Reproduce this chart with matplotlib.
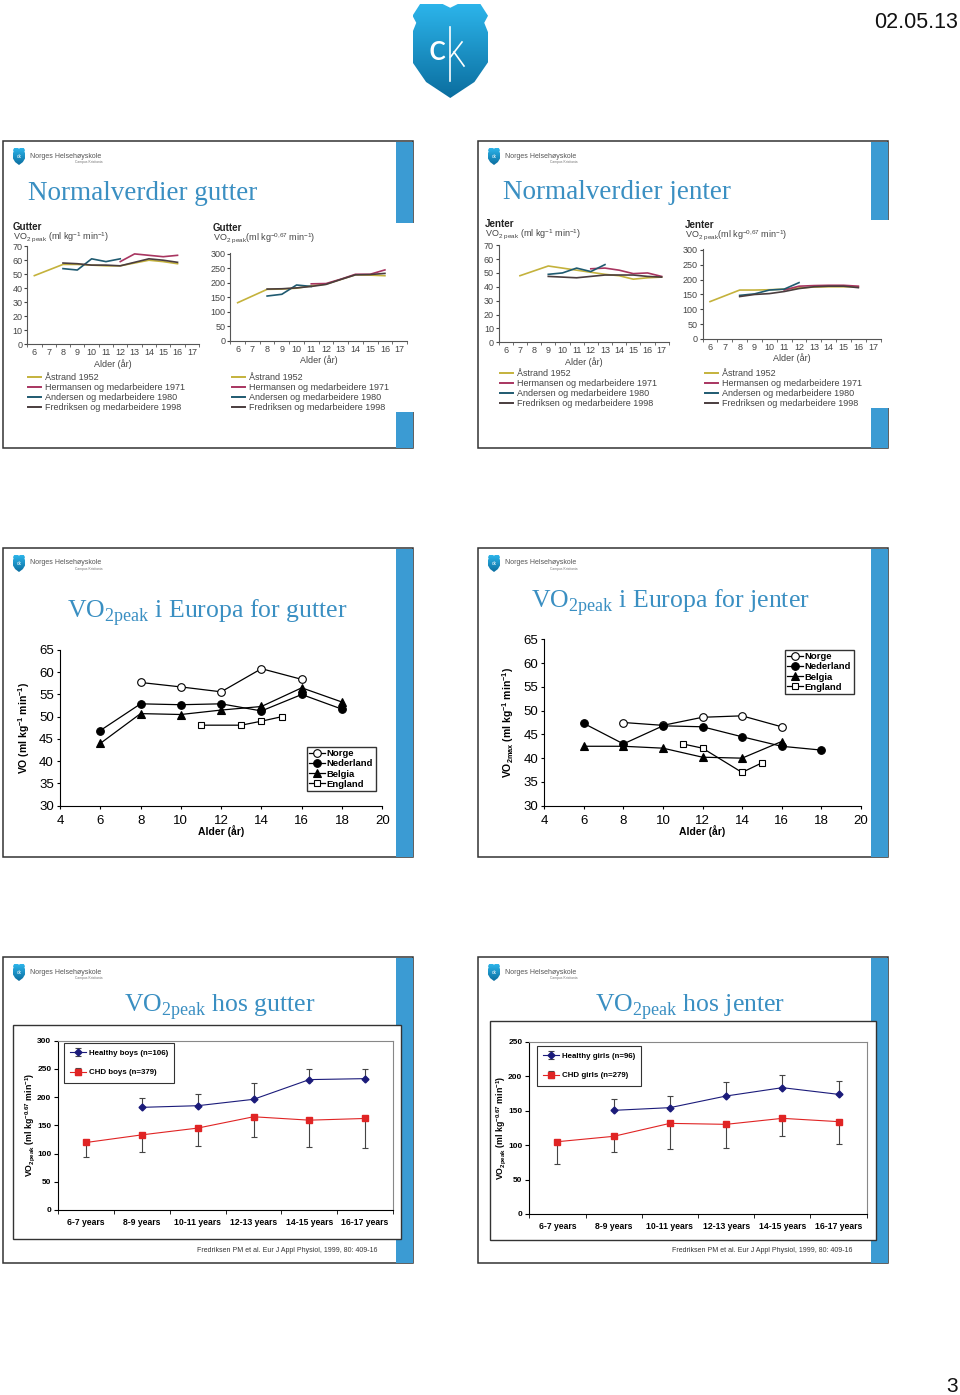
import matplotlib
matplotlib.use("Agg")
import matplotlib.pyplot as plt
import numpy as np
from matplotlib.colors import LinearSegmentedColormap
from matplotlib.patches import Polygon, Rectangle

W, H = 960, 1395
SANS = ["Liberation Sans", "DejaVu Sans"]
SERIF = ["Liberation Serif", "DejaVu Serif"]
TITLE_BLUE = "#3a8fc2"
BAR_BLUE = "#3b9bd3"
plt.rcParams["font.family"] = SANS

# ---- slides 1-2: normal values, one list of ages + one list of values per study
AGES = list(range(6, 18))
STUDIES = ["Åstrand 1952", "Hermansen og medarbeidere 1971",
           "Andersen og medarbeidere 1980", "Fredriksen og medarbeidere 1998"]
STUDY_COLORS = ["#c4b23c", "#a83560", "#1f5a70", "#4a3d3e"]

BOYS_KG_AGES = [[6, 8, 9, 10, 11, 12, 13, 14, 15, 16], [12, 13, 14, 15, 16],
                [8, 9, 10, 11, 12], [8, 9, 10, 11, 12, 13, 14, 15, 16]]
BOYS_KG = [[49, 57, 57, 56.5, 56, 56, 58, 60, 59, 57.5], [59, 64.5, 63.5, 62.5, 63.5],
           [54, 53, 61, 59, 61], [58, 57.5, 56.5, 56.5, 56, 58.5, 61, 60, 58.5]]
BOYS_AL_AGES = [[6, 8, 9, 10, 11, 12, 13, 14, 15, 16], [11, 12, 13, 14, 15, 16],
                [8, 9, 10, 11], [8, 9, 10, 11, 12, 13, 14, 15, 16]]
BOYS_AL = [[132, 178, 179, 182, 190, 196, 212, 228, 227, 225], [197, 198, 213, 230, 230, 245],
           [155, 161, 193, 188], [179, 180, 183, 188, 195, 212, 228, 229, 233]]
GIRLS_KG_AGES = [[7, 9, 10, 11, 12, 13, 14, 15, 16, 17], [12, 13, 14, 15, 16, 17],
                 [9, 10, 11, 12, 13], [9, 10, 11, 12, 13, 14, 15, 16, 17]]
GIRLS_KG = [[48, 55, 53.5, 52, 50.5, 49, 48, 45.5, 46.5, 47], [53, 53.5, 52, 49.5, 50, 47.5],
            [49, 50, 53.5, 51, 56], [47.5, 47, 46.5, 47.5, 48.5, 48.5, 48.5, 47.5, 47]]
GIRLS_AL_AGES = [[6, 8, 9, 10, 11, 12, 13, 14, 15, 16], [11, 12, 13, 14, 15, 16],
                 [8, 9, 10, 11, 12], [8, 9, 10, 11, 12, 13, 14, 15, 16]]
GIRLS_AL = [[126, 165, 165, 166, 168, 172, 175, 176, 176, 176], [165, 178, 180, 181, 181, 178],
            [147, 152, 165, 168, 190], [143, 150, 153, 160, 170, 176, 178, 178, 173]]

# ---- slides 3-4: VO2peak in Europe
COUNTRIES = ["Norge", "Nederland", "Belgia", "England"]
BOYS_EU_AGES = [[8, 10, 12, 14, 16], [6, 8, 10, 12, 14, 16, 18],
                [6, 8, 10, 12, 14, 16, 18], [11, 13, 14, 15]]
BOYS_EU = [[57.7, 56.7, 55.6, 60.8, 58.4], [46.9, 52.9, 52.7, 52.9, 51.3, 55.0, 51.7],
           [44.0, 50.7, 50.5, 51.5, 52.3, 56.5, 53.3], [48.1, 48.1, 49.0, 50.0]]
GIRLS_EU_AGES = [[8, 10, 12, 14, 16], [6, 8, 10, 12, 14, 16, 18],
                 [6, 8, 10, 12, 14, 16], [11, 12, 14, 15]]
GIRLS_EU = [[47.5, 46.9, 48.6, 48.9, 46.6], [47.3, 43.0, 46.8, 46.6, 44.5, 42.5, 41.7],
            [42.5, 42.5, 42.1, 40.2, 40.0, 43.5], [43.0, 42.1, 37.0, 39.0]]

# ---- slides 5-6: healthy vs CHD (mean, one-sided SD)
AGE_GROUPS = ["6-7 years", "8-9 years", "10-11 years", "12-13 years", "14-15 years", "16-17 years"]
HEALTHY_BOYS = [np.nan, 181.7, 184.6, 195.9, 230.8, 232.5]
HEALTHY_BOYS_SD = [0, 16, 20, 29, 18, 17]
CHD_BOYS = [119.5, 133, 145, 165, 159, 162]
CHD_BOYS_SD = [25, 30, 32, 35, 47, 52]
HEALTHY_GIRLS = [np.nan, 150.4, 154.3, 171.2, 183.3, 173.6]
HEALTHY_GIRLS_SD = [0, 16, 17, 20, 19, 20]
CHD_GIRLS = [104.9, 112.7, 131.5, 130.1, 138.8, 134.0]
CHD_GIRLS_SD = [33, 23, 37, 35, 26, 33]

SHIELD = [(0, 0.125), (0.1, 0.0), (0.4, 0.0), (0.5, 0.04), (0.6, 0.0), (0.9, 0.0),
          (1.0, 0.125), (0.95, 0.2), (1.0, 0.3), (1.0, 0.62), (0.82, 0.83), (0.5, 1.0),
          (0.18, 0.83), (0.0, 0.62), (0.0, 0.3), (0.05, 0.2)]

fig = plt.figure(figsize=(W / 100, H / 100), dpi=100)
bg = fig.add_axes([0, 0, 1, 1])
bg.axis("off")
shield_cmap = LinearSegmentedColormap.from_list("shield", ["#2cb4ea", "#0b6e9f"])


def px_axes(x0, y0, x1, y1):
    return fig.add_axes([x0 / W, 1 - y1 / H, (x1 - x0) / W, (y1 - y0) / H])


def shield(x0, y0, w, h):
    poly = Polygon([(x0 + u * w, y0 + v * h) for u, v in SHIELD], closed=True,
                   facecolor="none", edgecolor="none")
    bg.add_patch(poly)
    im = bg.imshow(np.linspace(0, 1, 64).reshape(-1, 1), extent=(x0, x0 + w, y0 + h, y0),
                   cmap=shield_cmap, aspect="auto", zorder=3)
    im.set_clip_path(poly)


def slide(x0, y0, x1, y1):
    bg.add_patch(Rectangle((x0, y0), x1 - x0, y1 - y0, facecolor="white",
                           edgecolor="#333333", lw=1.1, zorder=1))
    bg.add_patch(Rectangle((x1 - 17, y0 + 0.5), 16.5, y1 - y0 - 1, facecolor=BAR_BLUE,
                           edgecolor="none", zorder=2))
    shield(x0 + 10, y0 + 7, 12, 17)
    bg.text(x0 + 16, y0 + 15.5, "ck", fontsize=3.5, color="white", ha="center", va="center", zorder=4)
    bg.text(x0 + 27, y0 + 15, "Norges Helsehøyskole", fontsize=5, color="#555555", va="center", zorder=4)
    bg.text(x0 + 72, y0 + 21, "Campus Kristiania", fontsize=2.4, color="#777777", va="center", zorder=4)


def white_patch(x0, y0, x1, y1):
    bg.add_patch(Rectangle((x0, y0), x1 - x0, y1 - y0, facecolor="white", edgecolor="none", zorder=2.5))


def norm_chart(box, ylim, yticks, ages, values, head, ylab, head_xy, legend_xy):
    ax = px_axes(*box)
    ax.patch.set_alpha(0)
    for a, v, c in zip(ages, values, STUDY_COLORS):
        ax.plot(a, v, color=c, lw=1.2)
    ax.set_xlim(5.5, 17.5)
    ax.set_ylim(*ylim)
    ax.set_xticks(AGES)
    ax.set_xticks(np.arange(5.5, 18, 1), minor=True)
    ax.tick_params(axis="x", which="major", length=0, labelsize=6.5, pad=3, colors="#444444")
    ax.tick_params(axis="x", which="minor", length=2.5, color="#555555")
    ax.set_yticks(yticks)
    ax.tick_params(axis="y", length=2.5, labelsize=6.5, pad=1, colors="#444444")
    for s in ["top", "right"]:
        ax.spines[s].set_visible(False)
    for s in ["left", "bottom"]:
        ax.spines[s].set_color("#555555")
        ax.spines[s].set_linewidth(0.8)
    ax.set_xlabel("Alder (år)", fontsize=6.5, labelpad=1, color="#444444")
    hx, hy = head_xy
    bg.text(hx, hy, head, fontsize=7, fontweight="bold", color="#222222", va="center", zorder=4)
    bg.text(hx, hy + 10, ylab, fontsize=6.5, color="#444444", va="center", zorder=4)
    lx, ly = legend_xy
    for i, (name, c) in enumerate(zip(STUDIES, STUDY_COLORS)):
        bg.plot([lx, lx + 13], [ly + i * 10, ly + i * 10], color=c, lw=1.4, zorder=4)
        bg.text(lx + 17, ly + i * 10, name, fontsize=6.5, color="#444444", va="center", zorder=4)


EU_STYLE = [dict(marker="o", mfc="white", ms=5.5), dict(marker="o", mfc="black", ms=5.5),
            dict(marker="^", mfc="black", ms=5.5), dict(marker="s", mfc="white", ms=4.5)]


def europe_chart(box, ages, values, ylabel, legend_xy):
    ax = px_axes(*box)
    ax.patch.set_alpha(0)
    for a, v, name, st in zip(ages, values, COUNTRIES, EU_STYLE):
        ax.plot(a, v, color="black", lw=0.9, mec="black", mew=0.8, label=name, **st)
    ax.set_xlim(4, 20)
    ax.set_ylim(30, 65)
    ax.set_xticks(range(4, 21, 2))
    ax.set_yticks(range(30, 66, 5))
    ax.tick_params(labelsize=9.5, length=2.5)
    ax.tick_params(axis="x", pad=4)
    ax.tick_params(axis="y", pad=2)
    for s in ["top", "right"]:
        ax.spines[s].set_visible(False)
    ax.set_xlabel("Alder (år)", fontsize=7.5, fontweight="bold", labelpad=-1)
    ax.set_ylabel(ylabel, fontsize=7.5, fontweight="bold", labelpad=5)
    leg = ax.legend(loc="upper left", bbox_to_anchor=(legend_xy[0] / W, 1 - legend_xy[1] / H),
                    bbox_transform=fig.transFigure, prop={"size": 6.8, "weight": "bold"},
                    frameon=True, fancybox=False, edgecolor="black", borderpad=0.25,
                    labelspacing=0.12, handlelength=1.7, handletextpad=0.15, borderaxespad=0)
    leg.get_frame().set_linewidth(1.0)


def chd_chart(box, ylim, yticks, healthy, healthy_sd, chd, chd_sd, labels, legend_xy):
    ax = px_axes(*box)
    x = np.arange(len(AGE_GROUPS))
    ax.errorbar(x, healthy, yerr=[np.zeros(len(x)), healthy_sd], color="#1b1b7a", marker="D",
                ms=3.5, lw=0.8, ecolor="#444444", elinewidth=0.8, capsize=2.5, capthick=0.8,
                label=labels[0])
    ax.errorbar(x, chd, yerr=[chd_sd, np.zeros(len(x))], color="#e02424", marker="s",
                ms=5, lw=0.8, ecolor="#444444", elinewidth=0.8, capsize=2.5, capthick=0.8,
                label=labels[1])
    ax.set_xlim(-0.5, len(x) - 0.5)
    ax.set_ylim(*ylim)
    ax.set_xticks(x)
    ax.set_xticklabels(AGE_GROUPS, fontsize=6.2, fontweight="bold")
    ax.set_xticks(np.arange(-0.5, len(x), 1), minor=True)
    ax.tick_params(axis="x", which="major", length=0, pad=6)
    ax.tick_params(axis="x", which="minor", length=3)
    ax.set_yticks(yticks)
    ax.tick_params(axis="y", length=3, labelsize=6, pad=2)
    for lab in ax.get_yticklabels():
        lab.set_fontweight("bold")
    for s in ["top", "right"]:
        ax.spines[s].set_color("#888888")
    for sp in ax.spines.values():
        sp.set_linewidth(0.8)
    ax.set_ylabel(r"VO$_{\mathregular{2peak}}$ (ml kg$^{\mathregular{-0.67}}$ min$^{\mathregular{-1}}$)",
                  fontsize=6.3, fontweight="bold", labelpad=0)
    leg = ax.legend(loc="upper left", bbox_to_anchor=(legend_xy[0] / W, 1 - legend_xy[1] / H),
                    bbox_transform=fig.transFigure, prop={"size": 5.7, "weight": "bold"},
                    frameon=True, fancybox=False, edgecolor="black", borderpad=0.8,
                    labelspacing=1.5, handlelength=2.0, handletextpad=0.3, borderaxespad=0)
    leg.get_frame().set_linewidth(0.8)


# page header
shield(412.5, 4, 75.5, 94)
bg.text(446, 50, "c", fontsize=26, color="white", ha="right", va="center", family=["Lato", "DejaVu Sans"], zorder=5)
bg.plot([450, 450], [27, 81], color="white", lw=1.2, zorder=5)
bg.plot([450.5, 462], [57, 42], color="white", lw=1.2, zorder=5)
bg.plot([454, 464], [52, 66], color="white", lw=1.2, zorder=5)
bg.text(958, 22, "02.05.13", fontsize=15.5, ha="right", va="center", color="#111111")
bg.text(958, 1392, "3", fontsize=15, ha="right", va="baseline", color="#111111")

SLIDES = [(3, 141, 413, 448), (478, 141, 888, 448), (3, 548, 413, 857),
          (478, 548, 888, 857), (3, 957, 413, 1263), (478, 957, 888, 1263)]
for s in SLIDES:
    slide(*s)

# slide 1 / 2: white chart picture covering part of the blue bar
white_patch(390, 223, 414, 412)
white_patch(865, 220, 889, 408)

title_kw = dict(family=SERIF, color=TITLE_BLUE, zorder=4)
bg.text(28, 200, "Normalverdier gutter", va="baseline", fontsize=19.5, **title_kw)
bg.text(503, 199, "Normalverdier jenter", va="baseline", fontsize=19.5, **title_kw)
bg.text(207, 618, r"VO$_{\mathregular{2peak}}$ i Europa for gutter", ha="center", va="baseline",
        fontsize=18.5, **title_kw)
bg.text(670, 607, r"VO$_{\mathregular{2peak}}$ i Europa for jenter", ha="center", va="baseline",
        fontsize=18.5, **title_kw)
bg.text(220, 1012, r"VO$_{\mathregular{2peak}}$ hos gutter", ha="center", va="baseline",
        fontsize=18.5, **title_kw)
bg.text(690, 1012, r"VO$_{\mathregular{2peak}}$ hos jenter", ha="center", va="baseline",
        fontsize=18.5, **title_kw)

lab_kg = r"VO$_{\mathregular{2\ peak}}$ (ml kg$^{\mathregular{-1}}$ min$^{\mathregular{-1}}$)"
lab_al = r"VO$_{\mathregular{2\ peak}}$(ml kg$^{\mathregular{-0{,}67}}$ min$^{\mathregular{-1}}$)"
norm_chart((27.2, 245.5, 199, 344.3), (0, 70.5), range(0, 71, 10), BOYS_KG_AGES, BOYS_KG,
           "Gutter", lab_kg, (13, 227), (28, 377))
norm_chart((230.3, 252.5, 407, 341), (0, 305), range(0, 301, 50), BOYS_AL_AGES, BOYS_AL,
           "Gutter", lab_al, (213, 228), (232, 377))
norm_chart((498.7, 244.5, 668.7, 342.3), (0, 70.5), range(0, 71, 10), GIRLS_KG_AGES, GIRLS_KG,
           "Jenter", lab_kg, (485, 224), (500, 373))
norm_chart((702.6, 248.5, 880.6, 339), (0, 305), range(0, 301, 50), GIRLS_AL_AGES, GIRLS_AL,
           "Jenter", lab_al, (685, 225), (705, 373))

europe_chart((60, 650, 382.3, 805.7), BOYS_EU_AGES, BOYS_EU,
             r"VO (ml kg$^{\mathregular{-1}}$ min$^{\mathregular{-1}}$)", (307, 747))
europe_chart((544.3, 639.3, 860.7, 805.7), GIRLS_EU_AGES, GIRLS_EU,
             r"VO$_{\mathregular{2max}}$ (ml kg$^{\mathregular{-1}}$ min$^{\mathregular{-1}}$)", (785, 650))

# slides 5 / 6: chart picture boxes
bg.add_patch(Rectangle((13, 1025), 388, 214, facecolor="white", edgecolor="#333333", lw=1, zorder=2.6))
bg.add_patch(Rectangle((490, 1021), 386, 219, facecolor="white", edgecolor="#333333", lw=1, zorder=2.6))
chd_chart((58.3, 1040.5, 393, 1210), (0, 300), range(0, 301, 50), HEALTHY_BOYS, HEALTHY_BOYS_SD,
          CHD_BOYS, CHD_BOYS_SD, ["Healthy boys (n=106)", "CHD boys (n=379)"], (64, 1043))
chd_chart((529.3, 1041.7, 866.7, 1214), (0, 250), range(0, 251, 50), HEALTHY_GIRLS, HEALTHY_GIRLS_SD,
          CHD_GIRLS, CHD_GIRLS_SD, ["Healthy girls (n=96)", "CHD girls (n=279)"], (537, 1046))
cite = "Fredriksen PM et al. Eur J Appl Physiol, 1999, 80: 409-16"
bg.text(197, 1250, cite, fontsize=5, color="#333333", va="center", zorder=4)
bg.text(672, 1250, cite, fontsize=5, color="#333333", va="center", zorder=4)

bg.set_xlim(0, W)
bg.set_ylim(H, 0)
fig.savefig("out.png", dpi=100)
